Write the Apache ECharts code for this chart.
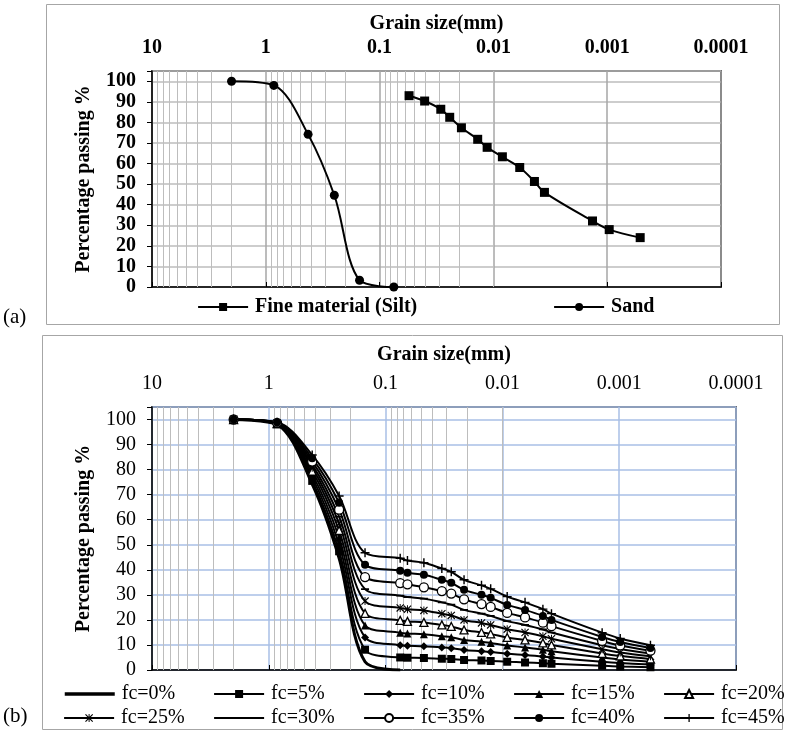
<!DOCTYPE html>
<html>
<head>
<meta charset="utf-8">
<script src="https://cdn.jsdelivr.net/npm/echarts@6/dist/echarts.min.js"></script>
<style>
html, body { margin: 0; padding: 0; background: #fff; }
#chart { width: 786px; height: 736px; }
</style>
</head>
<body>
<div id="chart"></div>
<script>
// ---- (a) constituent materials ----
var sandSize = [2, 0.85, 0.425, 0.25, 0.15, 0.075];
var sandPass = [100, 98, 74.2, 44.6, 3.3, 0];

var siltSize = [0.0551, 0.0402, 0.029, 0.0242, 0.0191, 0.01374, 0.01135, 0.00834, 0.00587, 0.00436, 0.00356, 0.001346, 0.00096, 0.000513];
var siltPass = [93, 90.4, 86.4, 82.5, 77.4, 71.8, 67.9, 63.3, 58.1, 51.3, 46, 32.1, 27.9, 24];

// ---- (b) sand + fines mixtures ----
var mixSize = [2, 0.85, 0.425, 0.25, 0.15, 0.075, 0.065, 0.047, 0.033, 0.0274, 0.0213, 0.0151, 0.0126, 0.0091, 0.0064, 0.0045, 0.0038, 0.0014, 0.00098, 0.00054];
var fc0  = [100, 98,   74.2, 44.6, 3.3,  0];
var fc5  = [100, 98.1, 75.5, 47.4, 8.1,  5.0,  4.9,  4.8,  4.5,  4.4,  4.0,  3.8,  3.6,  3.3,  3.0,  2.7,  2.5,  1.7,  1.4,  1.1];
var fc10 = [100, 98.2, 76.8, 50.1, 13.0, 9.9,  9.7,  9.5,  9.0,  8.7,  8.0,  7.5,  7.2,  6.5,  6.0,  5.4,  5.0,  3.3,  2.8,  2.2];
var fc15 = [100, 98.3, 78.1, 52.9, 17.8, 14.9, 14.6, 14.3, 13.5, 13.1, 12.0, 11.3, 10.8, 9.8,  9.0,  8.1,  7.5,  5.0,  4.2,  3.3];
var fc20 = [100, 98.4, 79.4, 55.7, 22.6, 19.8, 19.4, 19.0, 18.0, 17.4, 16.0, 15.0, 14.4, 13.0, 12.0, 10.8, 10.0, 6.6,  5.6,  4.4];
var fc25 = [100, 98.5, 80.7, 58.5, 27.5, 24.8, 24.3, 23.8, 22.5, 21.8, 20.0, 18.8, 18.0, 16.3, 15.0, 13.5, 12.5, 8.3,  7.0,  5.5];
var fc30 = [100, 98.6, 81.9, 61.2, 32.3, 29.7, 29.1, 28.5, 27.0, 26.1, 24.0, 22.5, 21.6, 19.5, 18.0, 16.2, 15.0, 9.9,  8.4,  6.6];
var fc35 = [100, 98.7, 83.2, 64.0, 37.1, 34.7, 34.2, 33.0, 31.5, 30.5, 28.2, 26.3, 25.2, 22.8, 21.0, 18.9, 17.5, 11.6, 9.8,  7.7];
var fc40 = [100, 98.8, 84.5, 66.8, 42.0, 39.6, 38.8, 38.0, 36.0, 34.8, 32.0, 30.0, 28.8, 26.0, 24.0, 21.6, 20.0, 13.2, 11.2, 8.8];
var fc45 = [100, 98.9, 85.8, 69.5, 46.8, 44.6, 43.7, 42.8, 40.5, 39.2, 36.0, 33.8, 32.4, 29.3, 27.0, 24.3, 22.5, 14.9, 12.6, 9.9];

var mixNames = ['fc=0%', 'fc=5%', 'fc=10%', 'fc=15%', 'fc=20%', 'fc=25%', 'fc=30%', 'fc=35%', 'fc=40%', 'fc=45%'];
var mixValues = [fc0, fc5, fc10, fc15, fc20, fc25, fc30, fc35, fc40, fc45];

// log minor grid lines (2..9 of each decade)
var minorLines = [];
for (var e = -4; e < 1; e++) {
  for (var m = 2; m <= 9; m++) minorLines.push(+(m * Math.pow(10, e)).toPrecision(2));
}

function pairs(xs, ys) {
  return ys.map(function (y, i) { return [xs[i], y]; });
}

var serif = 'Liberation Serif';
var BLK = '#000';
var SMOOTH = 0.33;

var asterisk = 'path://M0,1L1,0L10,9L9,10Z M9,0L10,1L1,10L0,9Z M4.4,0H5.6V10H4.4Z';
var plus = 'path://M4.2,0H5.8V4.2H10V5.8H5.8V10H4.2V5.8H0V4.2H4.2Z';
// horizontal dash, padded with tiny specks so its box stays square
var dash = 'path://M0,4H10V6H0Z M5,0L5.01,0L5,0.01Z M5,10L5.01,10L5,9.99Z';

var mixSymbols = [
  { symbol: 'none' },
  { symbol: 'rect', size: 8 },
  { symbol: 'diamond', size: 8 },
  { symbol: 'triangle', size: 8 },
  { symbol: 'triangle', size: 8, open: true },
  { symbol: asterisk, size: 8 },
  { symbol: dash, size: 8 },
  { symbol: 'circle', size: 9, open: true },
  { symbol: 'circle', size: 8 },
  { symbol: plus, size: 9 }
];

function logLabel(v) { return String(+(+v).toPrecision(1)); }

function xAxisFor(idx, bold, labelMargin, nameGap, majorColor) {
  return {
    type: 'log', logBase: 10, gridIndex: idx, position: 'top', inverse: true,
    min: 0.0001, max: 10,
    name: 'Grain size(mm)', nameLocation: 'middle', nameGap: nameGap,
    nameTextStyle: { fontFamily: serif, fontWeight: 'bold', fontSize: 20, color: BLK },
    axisLine: { show: true, lineStyle: { color: BLK, width: 1.5 } },
    axisTick: { show: true, inside: false, length: 5, lineStyle: { color: BLK, width: 1 } },
    axisLabel: { formatter: logLabel, margin: labelMargin, fontFamily: serif, fontSize: 20,
      fontWeight: bold ? 'bold' : 'normal', color: BLK },
    splitLine: { show: true, lineStyle: { color: majorColor, width: 1.5 } },
    minorTick: { show: false }, minorSplitLine: { show: false }
  };
}

function yAxisFor(idx, bold, gridColor) {
  return {
    type: 'value', gridIndex: idx, min: 0, max: 105, interval: 10,
    name: 'Percentage passing %', nameLocation: 'middle', nameGap: 58, nameRotate: 90,
    nameTextStyle: { fontFamily: serif, fontWeight: 'bold', fontSize: 20, color: BLK },
    axisLine: { show: true, lineStyle: { color: BLK, width: 1.5 } },
    axisTick: { show: true, inside: false, length: 5, lineStyle: { color: BLK } },
    axisLabel: { margin: 16, fontFamily: serif, fontSize: 20, fontWeight: bold ? 'bold' : 'normal', color: BLK,
      formatter: function (v) { return v > 100 ? '' : String(v); } },
    splitLine: { show: true, lineStyle: { color: gridColor, width: 1.5 } }
  };
}

function minorGrid(idx, color) {
  return {
    type: 'line', name: '_grid' + idx, xAxisIndex: idx, yAxisIndex: idx, data: [], z: 1,
    markLine: {
      silent: true, symbol: 'none', z: 1, animation: false,
      label: { show: false }, emphasis: { disabled: true },
      lineStyle: { color: color, width: 1, type: 'solid' },
      data: minorLines.map(function (v) { return { xAxis: v }; })
    }
  };
}

var series = [minorGrid(0, '#bdbdbd'), minorGrid(1, '#bdbdbd')];

series.push({
  type: 'line', name: 'Fine material (Silt)', xAxisIndex: 0, yAxisIndex: 0, smooth: SMOOTH,
  data: pairs(siltSize, siltPass), symbol: 'rect', symbolSize: 9,
  lineStyle: { color: BLK, width: 2 }, itemStyle: { color: BLK }
});
series.push({
  type: 'line', name: 'Sand', xAxisIndex: 0, yAxisIndex: 0, smooth: SMOOTH,
  data: pairs(sandSize, sandPass), symbol: 'circle', symbolSize: 9,
  lineStyle: { color: BLK, width: 2 }, itemStyle: { color: BLK }
});

mixNames.forEach(function (name, i) {
  var s = mixSymbols[i];
  series.push({
    type: 'line', name: name, xAxisIndex: 1, yAxisIndex: 1, smooth: SMOOTH,
    data: pairs(mixSize, mixValues[i]),
    symbol: s.symbol, symbolSize: s.size || 0, symbolKeepAspect: true,
    lineStyle: { color: BLK, width: i === 0 ? 3 : 2 },
    itemStyle: s.open ? { color: '#fff', borderColor: BLK, borderWidth: 1.3 } : { color: BLK }
  });
});

var legends = [];
function addLegend(name, left, top, bold, thick) {
  var lg = {
    data: [name], left: left, top: top, padding: 0, itemWidth: 50, itemHeight: 10,
    selectedMode: false,
    lineStyle: { width: thick ? 3.5 : 2.2, color: BLK },
    textStyle: { fontFamily: serif, fontSize: 20, fontWeight: bold ? 'bold' : 'normal', color: BLK, padding: [0, 0, 0, 2] }
  };
  if (thick) lg.itemStyle = { opacity: 0 };
  legends.push(lg);
}
addLegend('Fine material (Silt)', 197, 297, true);
addLegend('Sand', 553, 297, true);
mixNames.forEach(function (name, i) {
  addLegend(name, 63 + (i % 5) * 150, i < 5 ? 684 : 708, false, i === 0);
});

var chart = echarts.init(document.getElementById('chart'), null, { renderer: 'canvas' });
chart.setOption({
  animation: false,
  backgroundColor: '#fff',
  grid: [
    { left: 152, top: 71, width: 569, height: 216, show: true, borderColor: BLK, borderWidth: 1.5,
      backgroundColor: 'transparent', containLabel: false, outerBoundsMode: 'none' },
    { left: 152, top: 407, width: 584, height: 263, show: true, borderColor: BLK, borderWidth: 1.5,
      backgroundColor: 'transparent', containLabel: false, outerBoundsMode: 'none' }
  ],
  xAxis: [xAxisFor(0, true, 13, 37, '#a6a6a6'), xAxisFor(1, false, 13, 42, '#a9bfe6')],
  yAxis: [yAxisFor(0, true, '#bdbdbd'), yAxisFor(1, false, '#a9bfe6')],
  legend: legends,
  graphic: [
    { type: 'rect', shape: { x: 46.5, y: 4.5, width: 733, height: 320 }, style: { fill: 'none', stroke: '#a6a6a6', lineWidth: 1 }, silent: true },
    { type: 'rect', shape: { x: 42.5, y: 335.5, width: 740, height: 394 }, style: { fill: 'none', stroke: '#a6a6a6', lineWidth: 1 }, silent: true },
    { type: 'text', left: 3, top: 307, style: { text: '(a)', font: '21px "Liberation Serif"', fill: BLK }, silent: true },
    { type: 'text', left: 3, top: 706, style: { text: '(b)', font: '21px "Liberation Serif"', fill: BLK }, silent: true }
  ],
  series: series
});
</script>
</body>
</html>
